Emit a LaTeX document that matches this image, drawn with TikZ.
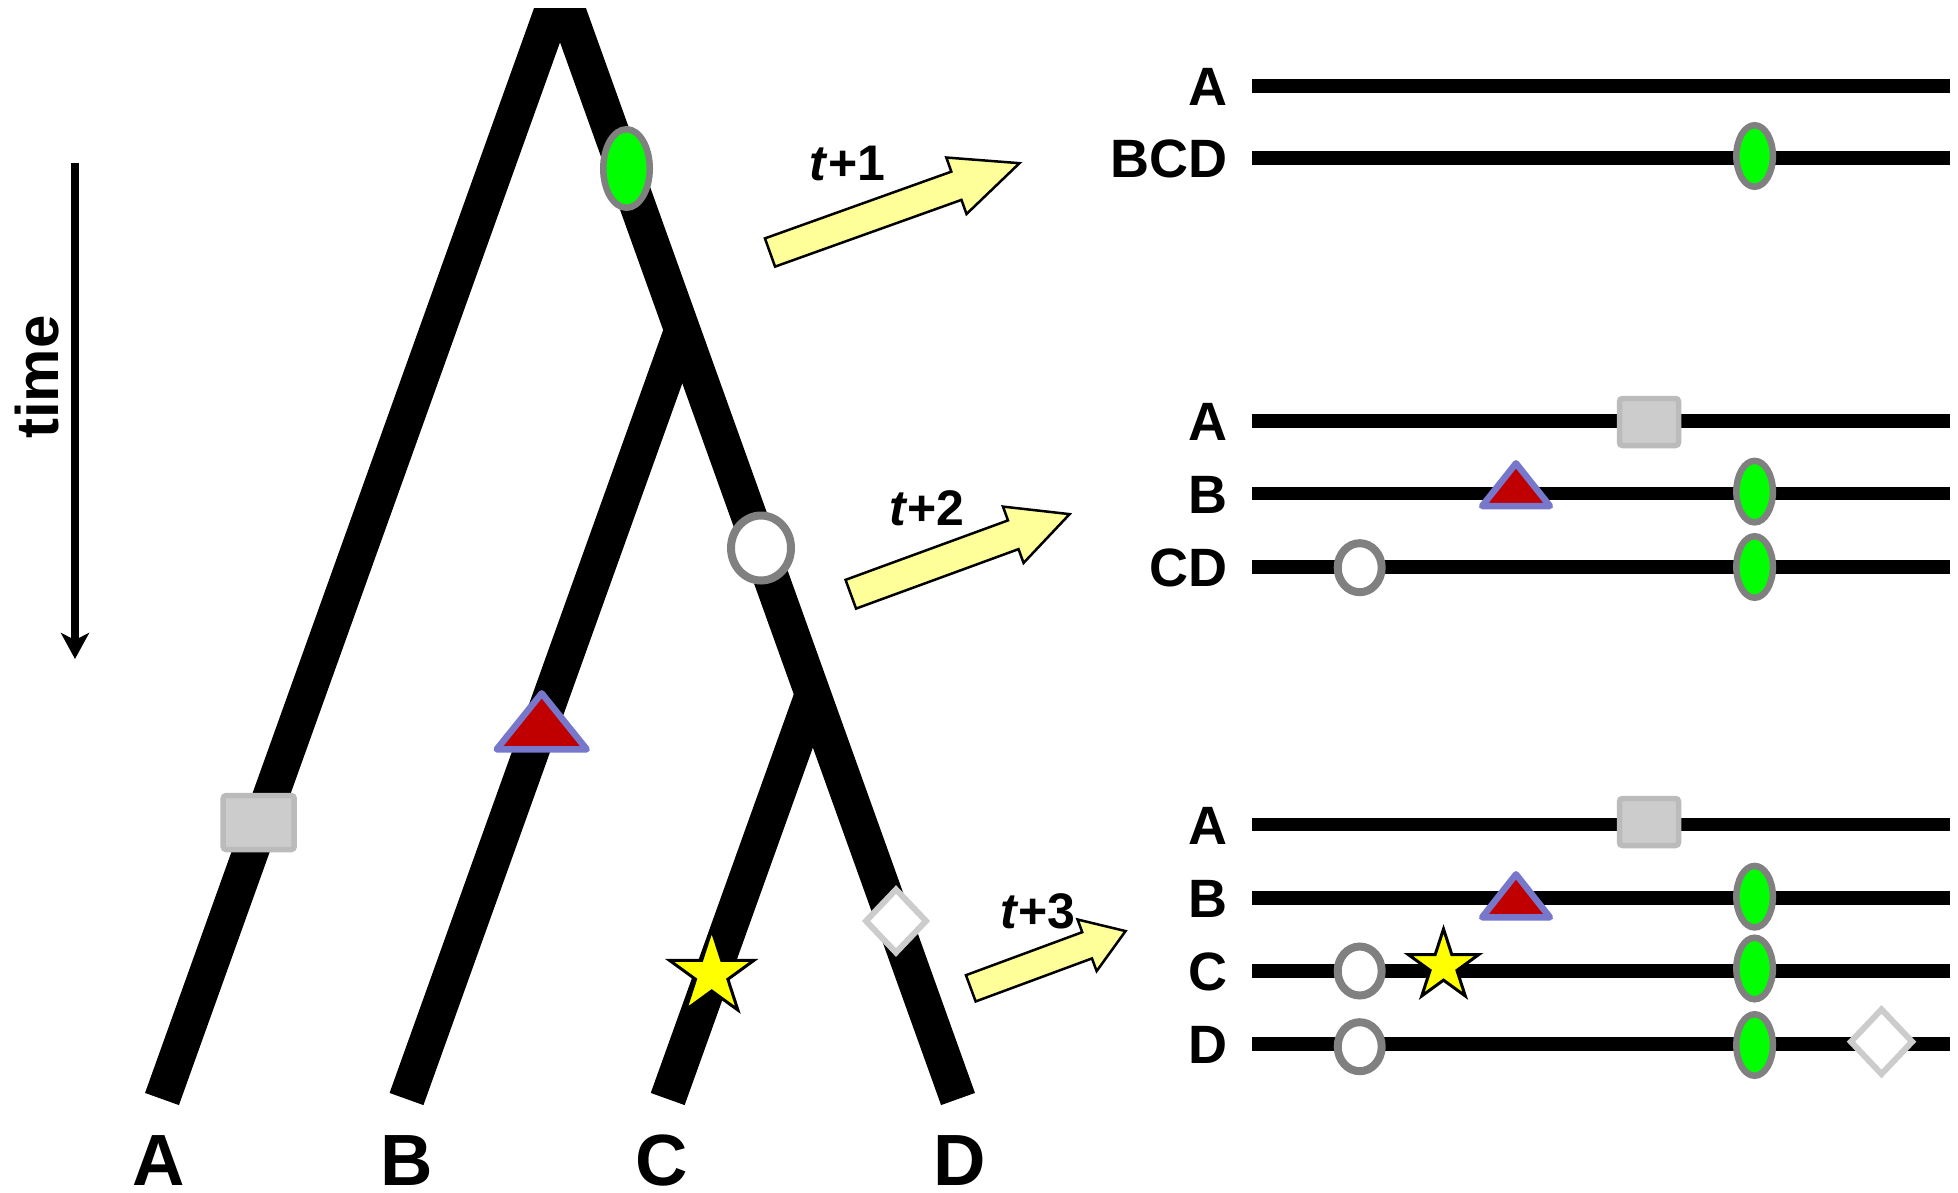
\documentclass[tikz,border=0pt]{standalone}
\usepackage{fontspec}
\setmainfont{Liberation Sans}
\usetikzlibrary{calc,arrows.meta}

\definecolor{ovalgreen}{RGB}{0,255,0}
\definecolor{rimgray}{RGB}{128,128,128}
\definecolor{boxfill}{RGB}{204,204,204}
\definecolor{boxrim}{RGB}{187,187,187}
\definecolor{trired}{RGB}{192,0,0}
\definecolor{tririm}{RGB}{119,119,204}
\definecolor{starfill}{RGB}{255,255,0}
\definecolor{diarim}{RGB}{204,204,204}
\definecolor{pale}{RGB}{255,255,153}

\tikzset{
  branch/.style={line width=36pt, line cap=butt, line join=miter},
  track/.style={line width=13.5pt, line cap=butt},
  oval/.style={draw=rimgray, fill=ovalgreen, line width=6.5pt},
  ring/.style={draw=rimgray, fill=white, line width=8pt},
  box/.style={draw=boxrim, fill=boxfill, line width=5.5pt, rounded corners=3pt},
  tri/.style={draw=tririm, fill=trired, line width=6.5pt, line join=round},
  starst/.style={draw=black, fill=starfill, line width=3pt, line join=miter},
  dia/.style={draw=diarim, fill=white, line width=6pt, line join=miter},
  fat/.style={draw=black, fill=pale, line width=2.5pt, line join=miter},
  leaf/.style={font=\fontsize{72.6}{80}\selectfont\bfseries, inner sep=0pt, anchor=base},
  rowlabel/.style={font=\fontsize{54}{60}\selectfont\bfseries, inner sep=0pt, anchor=base east},
  steplabel/.style={font=\fontsize{50}{56}\selectfont\bfseries, inner sep=0pt},
}

% mutation markers
\newcommand\ovalat[3]{\draw[oval] (#1) ellipse [x radius=#2, y radius=#3];}
\newcommand\ringat[3]{\draw[ring] (#1) ellipse [x radius=#2, y radius=#3];}
\newcommand\boxat[3]{\draw[box] ($(#1)+(-#2,-#3)$) rectangle ($(#1)+(#2,#3)$);}
% apex point, half width, height
\newcommand\triat[3]{\draw[tri] (#1) -- ++(#2,#3) -- ++(-2*#2,0) -- cycle;}
% centre, outer radius
\newcommand\starat[2]{\draw[starst] ($(#1)+(-90:#2)$)
  \foreach \k in {1,...,9} { -- ($(#1)+({-90+36*\k}:{ifthenelse(isodd(\k),0.382*#2,#2)})$) } -- cycle;}
\newcommand\diaat[3]{\draw[dia] ($(#1)+(0,-#3)$) -- ($(#1)+(#2,0)$) -- ($(#1)+(0,#3)$) -- ($(#1)+(-#2,0)$) -- cycle;}
% block arrow: tail, angle, length, head length, shaft half width, head half width
\newcommand\fatarrow[6]{\draw[fat, shift={(#1)}, rotate=#2]
  (0,-#5) -- ({#3-#4},-#5) -- ({#3-#4},-#6) -- (#3,0) -- ({#3-#4},#6) -- ({#3-#4},#5) -- (0,#5) -- cycle;}

\begin{document}
\begin{tikzpicture}[x=1pt, y=-1pt]
\useasboundingbox (0,0) rectangle (1958,1192);

% ---------- genealogy ----------
\coordinate (root) at (560,-11);
\coordinate (jBCD) at (682.3,330);
\coordinate (jCD) at (812.9,694.2);
\coordinate (endA) at (162,1099);
\coordinate (endB) at (406.5,1099);
\coordinate (endC) at (667.7,1099);
\coordinate (endD) at (958,1099);

\begin{scope}
  \clip (0,8) rectangle (1958,1192);
  \draw[branch] (endA) -- (root) -- (endD);
  \draw[branch] (endB) -- (jBCD);
  \draw[branch] (endC) -- (jCD);
\end{scope}

\node[leaf] (labA) at (159,1185) {A};
\node[leaf] (labB) at (406.8,1185) {B};
\node[leaf] (labC) at (662,1185) {C};
\node[leaf] (labD) at (959.6,1185) {D};

% markers on the branches
\coordinate (tOval) at (626.5,168.5);
\coordinate (tRing) at (761,548);
\coordinate (tTri) at (541.7,693.3);
\coordinate (tBox) at (258.7,822.5);
\coordinate (tStar) at (711.7,974);
\coordinate (tDia) at (896,921);
\ovalat{tOval}{23.25}{39.25}
\ringat{tRing}{30}{32.5}
\triat{tTri}{45}{56}
\boxat{tBox}{35.5}{27}
\starat{tStar}{44.5}
\diaat{tDia}{30}{31.5}

% time axis
\coordinate (timeTop) at (75,163);
\coordinate (timeBot) at (75,659);
\draw[line width=8pt, -{Stealth[length=26pt, width=28pt, inset=7pt]}] (timeTop) -- (timeBot);
\node[rotate=90, font=\fontsize{60}{66}\selectfont\bfseries, inner sep=0pt] (timelabel) at (37,377) {time};

% ---------- step arrows ----------
\coordinate (arrA) at (770,252.5);
\coordinate (arrB) at (850.8,594.2);
\coordinate (arrC) at (970.8,988.3);
\fatarrow{arrA}{19.7}{265}{67}{15}{30}
\fatarrow{arrB}{20.1}{233}{60}{15.3}{30}
\fatarrow{arrC}{20.3}{165}{41}{14}{27.5}
\node[steplabel] (step1) at (847.5,163) {\textit{t}+1};
\node[steplabel] (step2) at (927,508.5) {\textit{t}+2};
\node[steplabel] (step3) at (1038,911.7) {\textit{t}+3};

% ---------- sequence rows ----------
\foreach \nm/\yy in {a1/86, bcd1/158, a2/421, b2/493.7, cd2/567, a3/824.7, b3/898, c3/971, d3/1044} {
  \coordinate (\nm-s) at (1252,\yy);
  \coordinate (\nm-e) at (1950,\yy);
  \draw[track] (\nm-s) -- (\nm-e);
}
\foreach \nm/\yy/\tx in {a1/86/A, bcd1/158/BCD, a2/421/A, b2/493.7/B, cd2/567/CD, a3/824.7/A, b3/898/B, c3/971/C, d3/1044/D} {
  \node[rowlabel] (\nm-lab) at (1228,\yy+19.5) {\tx};
}

% row markers, step 1
\coordinate (p1oval) at (1754.6,156);
\ovalat{p1oval}{18.25}{30.75}

% row markers, step 2
\coordinate (p2box) at (1649,422);
\coordinate (p2tri) at (1516,463.3);
\coordinate (p2ovalB) at (1754.6,491.6);
\coordinate (p2ovalCD) at (1754.6,567);
\coordinate (p2ring) at (1359.7,567.7);
\boxat{p2box}{29.5}{23.5}
\triat{p2tri}{33.9}{42.7}
\ovalat{p2ovalB}{18.25}{30.75}
\ovalat{p2ovalCD}{18.25}{30.75}
\ringat{p2ring}{22}{24.5}

% row markers, step 3
\coordinate (p3box) at (1649,822);
\coordinate (p3tri) at (1516,874.3);
\coordinate (p3ovalB) at (1754.6,896.7);
\coordinate (p3ovalC) at (1754.6,968.5);
\coordinate (p3ovalD) at (1754.6,1045);
\coordinate (p3ringC) at (1359.7,971);
\coordinate (p3ringD) at (1359.7,1046.7);
\coordinate (p3star) at (1443.5,966);
\coordinate (p3dia) at (1881.5,1041.7);
\boxat{p3box}{29.5}{23.5}
\triat{p3tri}{33.9}{43}
\ovalat{p3ovalB}{18.25}{30.75}
\ovalat{p3ovalC}{18.25}{30.75}
\ovalat{p3ovalD}{18.25}{30.75}
\ringat{p3ringC}{22}{24.5}
\ringat{p3ringD}{22}{24.5}
\starat{p3star}{37}
\diaat{p3dia}{30.6}{32.3}
\end{tikzpicture}
\end{document}
